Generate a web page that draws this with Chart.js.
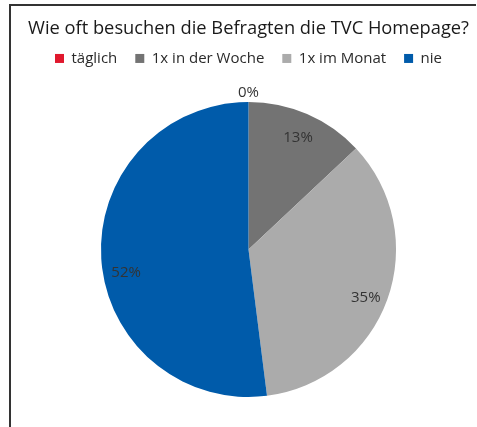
<!DOCTYPE html>
<html>
<head>
<meta charset="utf-8">
<script src="https://cdn.jsdelivr.net/npm/chart.js@4"></script>
<style>
html,body{margin:0;padding:0;background:#fff;}
#wrap{width:477px;height:427px;position:relative;}
</style>
</head>
<body>
<div id="wrap"><canvas id="c" width="477" height="427"></canvas></div>
<script>
const categories = ["täglich", "1x in der Woche", "1x im Monat", "nie"];
const values = [0, 13, 35, 52];
const colors = ["#E0182D", "#737373", "#ABABAB", "#005BAA"];
const titleText = "Wie oft besuchen die Befragten die TVC Homepage?";
// small label nudges (px) to mimic the original label placement
const labelNudge = [[0, 1], [0, 3], [0, 6], [2, 15]];

const frame = {
  id: "frame",
  beforeDraw(chart) {
    const ctx = chart.ctx;
    ctx.save();
    ctx.fillStyle = "#fff";
    ctx.fillRect(0, 0, chart.width, chart.height);
    ctx.strokeStyle = "#333";
    ctx.lineWidth = 2;
    ctx.beginPath();
    ctx.moveTo(10, 427);
    ctx.lineTo(10, 5);
    ctx.lineTo(476, 5);
    ctx.stroke();
    ctx.restore();
  }
};

// extra space below the legend
const legendGap = {
  id: "legendGap",
  beforeLayout(chart) {
    const lg = chart.legend;
    if (lg && !lg._gapPatched) {
      const orig = lg.fit;
      lg.fit = function () { orig.call(this); this.height += 26; };
      lg._gapPatched = true;
    }
  }
};

const pctLabels = {
  id: "pctLabels",
  afterDatasetsDraw(chart) {
    const ctx = chart.ctx;
    const meta = chart.getDatasetMeta(0);
    const total = values.reduce((a, b) => a + b, 0);
    ctx.save();
    ctx.font = "15px 'Open Sans'";
    ctx.fillStyle = "#333";
    ctx.textAlign = "center";
    ctx.textBaseline = "middle";
    meta.data.forEach((arc, i) => {
      const p = arc.getProps(["x", "y", "startAngle", "endAngle", "outerRadius"], true);
      const mid = (p.startAngle + p.endAngle) / 2;
      const r = values[i] === 0 ? p.outerRadius + 10 : p.outerRadius * 0.845;
      const pct = Math.round(values[i] / total * 100) + "%";
      ctx.fillText(pct, p.x + Math.cos(mid) * r + labelNudge[i][0], p.y + Math.sin(mid) * r + labelNudge[i][1]);
    });
    ctx.restore();
  }
};

new Chart(document.getElementById("c"), {
  type: "pie",
  data: {
    labels: categories,
    datasets: [{
      data: values,
      backgroundColor: colors,
      borderWidth: 0
    }]
  },
  options: {
    responsive: false,
    animation: false,
    layout: { padding: { left: 20, right: 0, top: 0, bottom: 30 } },
    plugins: {
      title: {
        display: true,
        text: titleText,
        color: "#1a1a1a",
        font: { family: "'Open Sans'", size: 18.3, weight: "normal" },
        padding: { top: 18, bottom: -7 }
      },
      legend: {
        position: "top",
        labels: {
          color: "#2a2a2a",
          font: { family: "'Open Sans'", size: 15 },
          boxWidth: 9,
          boxHeight: 9,
          padding: 18
        }
      },
      tooltip: { enabled: false }
    }
  },
  plugins: [frame, legendGap, pctLabels]
});
</script>
</body>
</html>
